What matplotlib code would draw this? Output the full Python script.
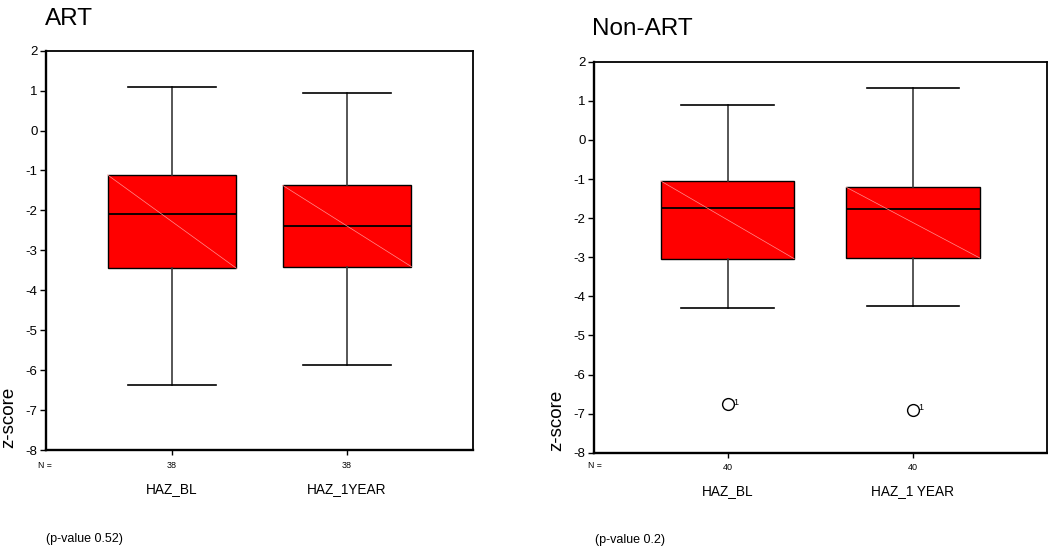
import matplotlib
matplotlib.use("Agg")
import matplotlib.pyplot as plt
from matplotlib import font_manager
import matplotlib.transforms as mtransforms

# ---------------- data ----------------
categories_art = ["HAZ_BL", "HAZ_1YEAR"]
categories_non = ["HAZ_BL", "HAZ_1 YEAR"]
n_art = [38, 38]
n_non = [40, 40]

# ART group box statistics (z-score)
art_whislo = [-6.36, -5.87]
art_q1 = [-3.45, -3.41]
art_med = [-2.10, -2.38]
art_q3 = [-1.11, -1.37]
art_whishi = [1.08, 0.94]
art_fliers = [[], []]

# Non-ART group box statistics (z-score)
non_whislo = [-4.31, -4.26]
non_q1 = [-3.04, -3.02]
non_med = [-1.75, -1.78]
non_q3 = [-1.05, -1.21]
non_whishi = [0.90, 1.33]
non_fliers = [[-6.76], [-6.91]]
flier_labels = ["1", "1"]

y_ticks = [2, 1, 0, -1, -2, -3, -4, -5, -6, -7, -8]
titles = ["ART", "Non-ART"]
pvalues = ["(p-value 0.52)", "(p-value 0.2)"]

# ---------------- fonts ----------------
avail = {f.name for f in font_manager.fontManager.ttflist}
narrow = "Liberation Sans Narrow" if "Liberation Sans Narrow" in avail else "Liberation Sans"
regular = "Liberation Sans"

fig = plt.figure(figsize=(10.48, 5.5), dpi=100)
W, H = 1048, 550


def px_axes(l, r, t, b):
    return fig.add_axes([l / W, 1 - b / H, (r - l) / W, (b - t) / H])


def draw_panel(ax, cats, ns, whislo, q1, med, q3, whishi, fliers, width,
               title, pval, title_xy, ylabel_xy, n_xy, pval_xy, cat_y, n_y):
    stats = []
    for i in range(len(cats)):
        stats.append(dict(med=med[i], q1=q1[i], q3=q3[i], whislo=whislo[i],
                          whishi=whishi[i], fliers=fliers[i], label=cats[i]))
    positions = list(range(1, len(cats) + 1))
    ax.bxp(stats, positions=positions, widths=width, patch_artist=True,
           showfliers=True,
           boxprops=dict(facecolor="#ff0000", edgecolor="black", linewidth=1.0),
           medianprops=dict(color="black", linewidth=1.3),
           whiskerprops=dict(color="#3a3a3a", linewidth=1.2),
           capprops=dict(color="black", linewidth=1.2),
           capwidths=0.5,
           flierprops=dict(marker="o", markerfacecolor="none",
                           markeredgecolor="black", markersize=8.5,
                           markeredgewidth=1.0))
    # faint diagonal line across each box (rendering artifact in original)
    for i, p in enumerate(positions):
        ax.plot([p - width / 2, p + width / 2], [q3[i], q1[i]],
                color="#ff9090", linewidth=0.5, zorder=3)
        for fv in fliers[i]:
            ax.annotate(flier_labels[i], (p, fv), xytext=(4.2, 1.5),
                        textcoords="offset points", fontsize=6.5,
                        family=narrow, va="center", ha="left")
    ax.set_xlim(0.28, 2.72)
    ax.set_ylim(-8, 2)
    ax.set_yticks(y_ticks)
    ax.set_yticklabels([str(v) for v in y_ticks], family=narrow, fontsize=9.5)
    ax.set_xticks(positions)
    ax.set_xticklabels([])
    ax.tick_params(axis="y", direction="out", length=4, width=1, pad=2)
    ax.tick_params(axis="x", direction="out", length=3.5, width=1)
    for s in ["left", "bottom"]:
        ax.spines[s].set_linewidth(1.7)
    for s in ["top", "right"]:
        ax.spines[s].set_linewidth(1.3)

    trans = mtransforms.blended_transform_factory(ax.transData, fig.transFigure)
    for i, p in enumerate(positions):
        fig.text(p, 1 - n_y / H, str(ns[i]), transform=trans, ha="center",
                 va="center", fontsize=6.5, family=narrow)
        fig.text(p, 1 - cat_y / H, cats[i], transform=trans, ha="center",
                 va="center", fontsize=9.8, family=narrow)
    fig.text(n_xy[0] / W, 1 - n_xy[1] / H, "N =", ha="left", va="center",
             fontsize=6.3, family=narrow)
    fig.text(title_xy[0] / W, 1 - title_xy[1] / H, title, ha="left",
             va="baseline", fontsize=17.5, family=narrow)
    fig.text(ylabel_xy[0] / W, 1 - ylabel_xy[1] / H, "z-score", rotation=90,
             ha="center", va="center", fontsize=13.5, family=regular)
    fig.text(pval_xy[0] / W, 1 - pval_xy[1] / H, pval, ha="left",
             va="center", fontsize=9, family=narrow)


ax1 = px_axes(46, 473, 50.7, 450)
draw_panel(ax1, categories_art, n_art, art_whislo, art_q1, art_med, art_q3,
           art_whishi, art_fliers, 0.737, titles[0], pvalues[0],
           title_xy=(45, 25), ylabel_xy=(8.5, 417), n_xy=(38.5, 466),
           pval_xy=(46, 539), cat_y=489.5, n_y=466)

ax2 = px_axes(594, 1046.5, 61.7, 452.7)
draw_panel(ax2, categories_non, n_non, non_whislo, non_q1, non_med, non_q3,
           non_whishi, non_fliers, 0.72, titles[1], pvalues[1],
           title_xy=(592, 35), ylabel_xy=(556.5, 420), n_xy=(588, 466),
           pval_xy=(595, 540), cat_y=491, n_y=467)

fig.savefig("out.png", dpi=100)
